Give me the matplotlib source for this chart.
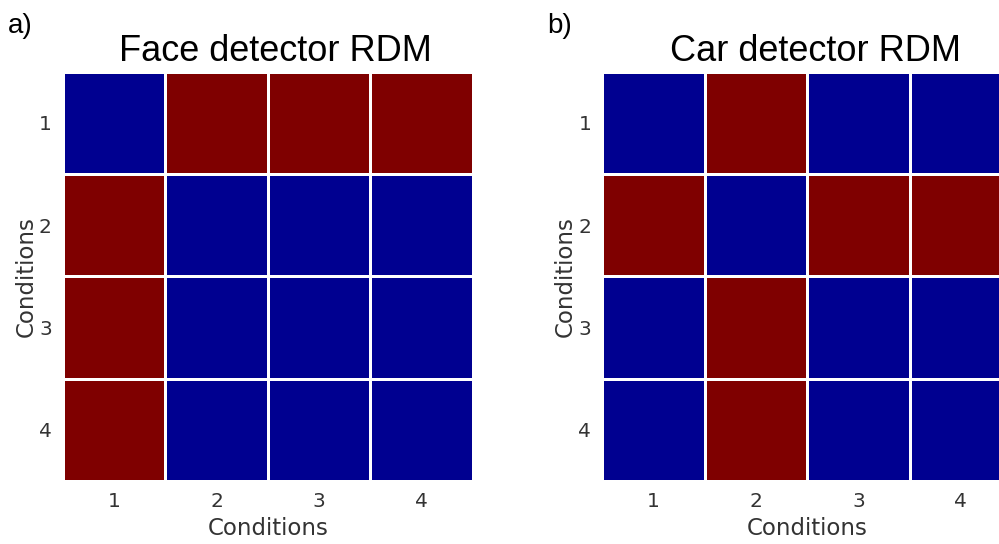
"""
Face / car detector RDMs, two 4x4 panels.
"""

import matplotlib

matplotlib.use("Agg")
import matplotlib.pyplot as plt
from matplotlib.colors import ListedColormap
import numpy as np

conditions = ["1", "2", "3", "4"]

# 0 = similar (blue), 1 = dissimilar (red)
face_rdm = [
    [0, 1, 1, 1],
    [1, 0, 0, 0],
    [1, 0, 0, 0],
    [1, 0, 0, 0],
]
car_rdm = [
    [0, 1, 0, 0],
    [1, 0, 1, 1],
    [0, 1, 0, 0],
    [0, 1, 0, 0],
]

panels = [
    ("a)", "Face detector RDM", face_rdm),
    ("b)", "Car detector RDM", car_rdm),
]

cmap = ListedColormap(["#000090", "#7f0000"])
text_color = "#333333"

fig = plt.figure(figsize=(9.99, 5.44), dpi=100)
lefts = [0.063, 0.603]

for left, (tag, title, rdm) in zip(lefts, panels):
    ax = fig.add_axes([left, 0.116, 0.41, 0.752])
    data = np.array(rdm)
    ax.pcolormesh(data, cmap=cmap, vmin=0, vmax=1,
                  edgecolors="white", linewidth=2.0)
    ax.set_xlim(0, len(conditions))
    ax.set_ylim(len(conditions), 0)
    ticks = np.arange(len(conditions)) + 0.5
    ax.set_xticks(ticks)
    ax.set_xticklabels(conditions)
    ax.set_yticks(ticks)
    ax.set_yticklabels(conditions)
    ax.tick_params(length=0, labelsize=14.5, labelcolor=text_color, pad=8)
    for side in ax.spines.values():
        side.set_visible(False)
    ax.set_xlabel("Conditions", fontsize=16.5, color=text_color, labelpad=4)
    ax.set_ylabel("Conditions", fontsize=16.5, color=text_color, labelpad=1)
    ax.set_title(title, fontsize=26, family="Liberation Sans", pad=8, x=0.52)
    fig.text(left - 0.055, 0.94, tag, fontsize=20, family="Liberation Sans")

plt.savefig("out.png", dpi=100)
plt.close()
